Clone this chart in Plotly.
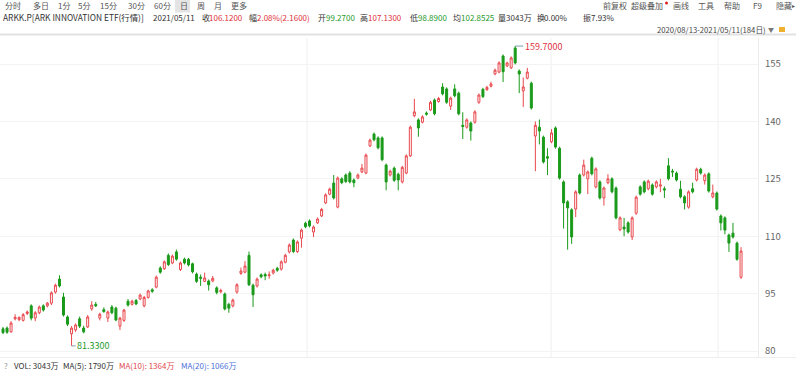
import plotly.graph_objects as go

W, H = 796, 371
FONT = "Noto Sans CJK SC"
RED = "#e8474c"
GREEN = "#1a9a1a"
TXT_RED = "#e0313b"
TXT_GREEN = "#1f9a2a"

# ---- data (ARKK daily, 2020/08/13 - 2021/05/11, 184 sessions) ----
opens = [85.8, 86.0, 85.0, 88.4, 88.2, 88.0, 89.8, 91.8, 88.6, 90.0,
         91.8, 91.8, 92.5, 95.4, 98.8, 94.1, 88.9, 84.5, 85.5, 88.4,
         86.0, 86.3, 91.0, 92.2, 88.6, 90.8, 88.6, 91.5, 91.2, 86.5,
         88.0, 93.0, 92.2, 93.2, 93.6, 91.8, 94.0, 96.0, 96.7, 101.7,
         101.5, 105.0, 103.0, 105.9, 101.3, 104.0, 104.0, 102.8, 100.1, 99.3,
         98.2, 98.3, 98.3, 96.5, 95.5, 94.9, 92.2, 91.8, 95.4, 100.3,
         100.6, 105.0, 97.2, 97.0, 99.9, 100.0, 99.7, 100.4, 101.6, 101.4,
         103.2, 105.9, 109.0, 106.0, 109.5, 113.4, 114.0, 111.1, 113.5, 115.3,
         118.7, 121.0, 123.9, 117.6, 125.0, 126.0, 126.5, 124.7, 125.2, 126.8,
         126.5, 133.6, 136.7, 135.7, 135.7, 128.6, 126.0, 127.8, 126.2, 124.2,
         126.5, 131.0, 141.5, 140.4, 139.8, 142.2, 143.0, 145.6, 145.2, 149.0,
         148.5, 144.0, 148.5, 147.4, 139.0, 138.5, 139.6, 139.8, 145.0, 148.4,
         148.3, 149.2, 152.4, 152.9, 157.1, 154.5, 154.0, 159.2, 153.2, 148.0,
         151.3, 150.0, 136.2, 138.5, 135.9, 130.8, 134.7, 138.3, 133.0, 124.2,
         119.0, 116.9, 117.1, 126.0, 126.0, 125.0, 130.4, 122.9, 124.2, 120.0,
         124.0, 125.0, 122.6, 111.7, 112.4, 113.5, 109.8, 116.0, 122.9, 124.2,
         122.4, 123.4, 122.9, 123.1, 122.4, 128.4, 127.0, 126.5, 122.3, 120.3,
         117.6, 122.4, 124.7, 127.5, 124.5, 126.3, 120.3, 121.3, 115.3, 114.8,
         110.3, 110.8, 108.2, 99.27]

highs = [86.3, 86.4, 87.8, 89.6, 89.0, 89.9, 90.6, 92.2, 90.4, 91.9,
         92.2, 92.8, 95.6, 97.6, 99.8, 95.2, 89.3, 86.5, 87.2, 89.0,
         86.6, 89.4, 93.0, 92.8, 90.0, 91.4, 90.6, 92.0, 91.6, 88.9,
         91.0, 93.6, 93.4, 93.6, 95.0, 94.4, 96.0, 96.4, 99.7, 102.1,
         103.7, 105.5, 105.2, 106.5, 103.4, 104.4, 104.3, 103.1, 100.5, 100.0,
         100.5, 98.7, 99.6, 96.9, 96.3, 95.3, 92.6, 93.7, 97.7, 101.8,
         103.5, 106.0, 97.6, 99.2, 100.3, 100.5, 100.8, 101.5, 102.0, 103.7,
         105.4, 108.1, 109.4, 108.9, 112.0, 113.8, 114.4, 112.8, 114.9, 117.4,
         121.2, 122.7, 126.0, 125.6, 125.4, 126.4, 127.0, 125.1, 126.4, 128.9,
         131.6, 135.5, 137.1, 136.1, 136.1, 129.0, 127.4, 128.2, 126.6, 128.4,
         131.4, 138.9, 145.9, 140.8, 141.6, 142.6, 145.4, 146.0, 146.4, 150.0,
         148.9, 146.5, 149.7, 147.8, 142.4, 140.8, 140.0, 142.9, 147.3, 148.8,
         149.3, 150.4, 153.8, 155.7, 157.5, 155.6, 157.0, 159.7, 153.6, 151.5,
         154.0, 150.4, 140.0, 140.5, 136.3, 133.0, 138.0, 138.7, 133.4, 124.6,
         119.4, 117.3, 122.0, 126.4, 130.0, 127.2, 130.8, 128.0, 124.6, 123.0,
         126.2, 125.4, 123.0, 115.2, 114.8, 113.9, 115.2, 120.6, 123.3, 124.6,
         124.8, 123.8, 124.6, 125.0, 123.0, 130.4, 127.6, 126.9, 124.5, 120.7,
         122.0, 124.0, 127.9, 127.9, 126.4, 126.7, 123.5, 121.7, 115.7, 115.2,
         110.7, 113.5, 108.6, 107.13]

lows = [84.4, 84.5, 84.8, 88.0, 87.8, 87.7, 89.4, 88.0, 87.8, 89.6,
        90.3, 91.4, 92.0, 95.0, 96.6, 89.0, 86.5, 81.33, 85.0, 86.0,
        84.6, 86.0, 90.5, 91.5, 88.0, 90.0, 87.6, 89.6, 87.8, 85.5,
        87.6, 91.6, 91.9, 92.0, 93.3, 91.4, 93.7, 95.2, 96.4, 100.2,
        101.2, 102.2, 102.7, 103.6, 100.9, 102.6, 102.1, 100.3, 97.8, 97.0,
        98.0, 95.8, 98.0, 94.8, 95.1, 90.6, 90.0, 91.4, 95.0, 99.9,
        100.3, 97.0, 91.5, 96.6, 99.0, 98.5, 98.9, 100.0, 100.7, 101.0,
        102.9, 105.5, 105.6, 105.6, 107.0, 112.1, 112.3, 109.8, 113.2, 115.0,
        118.4, 120.7, 119.6, 117.3, 123.6, 123.9, 123.8, 122.8, 124.9, 126.5,
        126.2, 133.3, 134.8, 132.7, 129.6, 122.0, 125.6, 124.2, 122.0, 123.8,
        126.2, 130.7, 141.1, 136.0, 139.5, 141.5, 142.7, 141.6, 144.9, 146.8,
        144.6, 143.0, 146.3, 141.6, 135.4, 138.1, 135.0, 139.4, 144.6, 146.1,
        148.0, 148.9, 152.1, 152.6, 150.3, 154.2, 153.7, 154.9, 147.4, 143.8,
        151.0, 143.1, 127.0, 134.0, 129.0, 126.0, 134.3, 132.9, 124.8, 112.0,
        106.5, 108.0, 115.0, 120.9, 125.6, 121.0, 125.9, 122.5, 119.6, 118.0,
        123.6, 121.2, 114.4, 111.3, 110.0, 110.7, 109.0, 115.6, 120.6, 121.2,
        122.0, 120.6, 122.5, 121.5, 120.0, 124.6, 125.5, 124.3, 119.9, 117.0,
        117.2, 121.2, 124.3, 126.1, 123.5, 121.4, 119.9, 116.7, 111.5, 110.5,
        105.9, 109.4, 103.6, 98.89]

closes = [84.8, 84.9, 87.3, 88.8, 88.8, 89.5, 90.2, 88.6, 90.0, 91.5,
          90.7, 92.5, 95.2, 97.2, 97.0, 89.4, 87.0, 86.0, 86.8, 86.5,
          85.0, 88.9, 92.0, 91.8, 89.6, 90.3, 90.2, 90.0, 88.1, 88.6,
          90.7, 92.0, 93.0, 92.3, 94.6, 94.0, 95.7, 95.6, 99.3, 100.6,
          103.3, 102.6, 104.8, 104.0, 103.0, 103.0, 102.5, 100.7, 98.2, 99.0,
          99.1, 97.3, 99.0, 95.3, 95.8, 91.0, 91.2, 93.3, 97.3, 100.9,
          102.2, 97.3, 94.7, 98.8, 99.4, 99.6, 99.9, 101.1, 101.1, 103.3,
          105.0, 107.7, 106.0, 108.5, 111.6, 112.5, 112.7, 112.4, 114.5, 117.0,
          120.8, 122.3, 120.0, 125.2, 124.0, 124.3, 124.2, 124.0, 126.0, 127.8,
          131.2, 135.1, 135.2, 133.1, 130.0, 124.2, 127.0, 124.6, 124.7, 128.0,
          131.0, 138.5, 142.5, 138.3, 141.2, 141.9, 145.0, 142.0, 146.0, 147.2,
          145.0, 146.1, 146.7, 142.0, 138.7, 140.4, 137.5, 142.5, 146.9, 146.5,
          148.9, 149.8, 153.4, 155.3, 153.0, 155.3, 156.6, 155.3, 152.4, 149.0,
          152.9, 143.5, 139.0, 137.5, 129.4, 130.4, 137.0, 133.3, 125.2, 118.7,
          117.4, 109.8, 121.6, 121.3, 128.6, 126.8, 126.3, 127.6, 120.0, 122.6,
          125.0, 121.6, 114.8, 114.8, 111.9, 111.1, 114.8, 120.2, 121.0, 121.6,
          124.4, 121.0, 124.2, 123.4, 122.1, 125.0, 126.8, 124.7, 120.3, 118.7,
          121.6, 121.6, 127.5, 126.5, 126.0, 121.8, 121.3, 117.1, 113.5, 111.6,
          108.2, 109.8, 103.96, 106.12]

y_ticks = [80, 95, 110, 125, 140, 155]
month_grid = [75.4, 135.9, 177.3]   # session positions of the faint vertical grid lines

idx_max = 127
idx_min = 17

# ---- layout geometry (pixels) ----
PLOT_L, PLOT_R, PLOT_T, PLOT_B = 0, 758, 38, 357
PX_PER_BAR = 4.033
X0 = -3 / PX_PER_BAR
X1 = X0 + (PLOT_R - PLOT_L) / PX_PER_BAR
PX_PER_UNIT = 3.826
Y0 = 80 - (PLOT_B - 351) / PX_PER_UNIT
Y1 = Y0 + (PLOT_B - PLOT_T) / PX_PER_UNIT

xs = list(range(len(opens)))

fig = go.Figure()
fig.add_trace(go.Candlestick(
    x=xs, open=opens, high=highs, low=lows, close=closes,
    increasing=dict(line=dict(color=RED, width=1), fillcolor="white"),
    decreasing=dict(line=dict(color=GREEN, width=1), fillcolor=GREEN),
    whiskerwidth=0, hoverinfo="skip", showlegend=False,
))

fig.update_layout(
    width=W, height=H,
    margin=dict(l=0, r=0, t=0, b=0),
    paper_bgcolor="white", plot_bgcolor="white",
    showlegend=False,
    xaxis=dict(domain=[PLOT_L / W, PLOT_R / W], range=[X0, X1],
               showgrid=False, zeroline=False, showticklabels=False,
               rangeslider=dict(visible=False), fixedrange=True),
    yaxis=dict(domain=[1 - PLOT_B / H, 1 - PLOT_T / H], range=[Y0, Y1],
               side="right", tickvals=y_ticks, ticks="",
               ticklabelstandoff=4,
               tickfont=dict(family=FONT, size=9.5, color="#666"),
               showgrid=True, gridcolor="#f3f3f3", gridwidth=1,
               zeroline=False, showline=True, linecolor="#ececec",
               automargin=False, fixedrange=True),
)


def px(x):
    return x / W


def py(y):
    return 1 - y / H


def txt(x, y, s, color="#333", size=8.2, anchor="left"):
    fig.add_annotation(x=px(x), y=py(y), xref="paper", yref="paper", text=s,
                       showarrow=False, xanchor=anchor, yanchor="middle",
                       borderpad=0,
                       font=dict(family=FONT, size=size, color=color))


# faint vertical grid lines
for g in month_grid:
    fig.add_shape(type="line", xref="x", yref="paper", x0=g, x1=g,
                  y0=1 - PLOT_B / H, y1=1 - PLOT_T / H,
                  line=dict(color="#efefef", width=1), layer="below")

# header separator & bottom separator
fig.add_shape(type="line", xref="paper", yref="paper", x0=0, x1=1,
              y0=py(34.5), y1=py(34.5), line=dict(color="#e2e2e2", width=2))
fig.add_shape(type="line", xref="paper", yref="paper", x0=0, x1=1,
              y0=py(357.5), y1=py(357.5), line=dict(color="#eeeeee", width=1))

# highlighted "日" tab
fig.add_shape(type="rect", xref="paper", yref="paper", x0=px(175), x1=px(190),
              y0=py(12.5), y1=py(0), fillcolor="#e4e4e4", line=dict(width=0),
              layer="below")

# ---- top menu row ----
menu = [(4, "分时"), (32, "多日"), (57, "1分"), (77, "5分"), (99, "15分"),
        (127, "30分"), (153, "60分"), (179, "日"), (196, "周"), (213, "月"),
        (230, "更多")]
for x, s in menu:
    txt(x, 6, s, "#555", 8)

right_menu = [(602, "前复权"), (630, "超级叠加"), (672, "画线"), (697, "工具"),
              (723, "帮助"), (752, "F9"), (775, "隐藏")]
for x, s in right_menu:
    txt(x, 6, s, "#555", 8)
txt(791, 6, "▸", "#555", 6)
fig.add_shape(type="circle", xref="paper", yref="paper", x0=px(665), x1=px(668),
              y0=py(4.5), y1=py(1.5), fillcolor="#e02020", line=dict(width=0))

# ---- quote row ----
quote = [(2, "ARKK.P[ARK INNOVATION ETF(行情)]", "#333", 8.4),
         (152, "2021/05/11", "#333", 8),
         (201, "收", "#333", 8), (208, "106.1200", TXT_RED, 8),
         (248, "幅", "#333", 8), (256, "2.08%(2.1600)", TXT_RED, 8),
         (317, "开", "#333", 8), (325, "99.2700", TXT_GREEN, 8),
         (359, "高", "#333", 8), (367, "107.1300", TXT_RED, 8),
         (409, "低", "#333", 8), (417, "98.8900", TXT_GREEN, 8),
         (452, "均", "#333", 8), (460, "102.8525", TXT_GREEN, 8),
         (497, "量", "#333", 8), (505, "3043万", "#333", 8),
         (536, "换", "#333", 8), (543, "0.00%", "#333", 8),
         (582, "振", "#333", 8), (590, "7.93%", "#333", 8)]
for x, s, c, sz in quote:
    txt(x, 17, s, c, sz)

# ---- range row ----
txt(656, 29, "2020/08/13-2021/05/11(184日)", "#444", 7.7)
txt(767, 29, "▼", "#777", 6)
fig.add_shape(type="rect", xref="paper", yref="paper", x0=px(779), x1=px(785),
              y0=py(32), y1=py(27), fillcolor="#f0b030", line=dict(width=0))

# ---- extreme labels ----
fig.add_shape(type="line", xref="x", yref="y", x0=idx_max, x1=idx_max + 2,
              y0=highs[idx_max], y1=highs[idx_max], line=dict(color="#7f9fb0", width=1))
fig.add_annotation(x=idx_max + 2.1, y=highs[idx_max], xref="x", yref="y",
                   text=f"{highs[idx_max]:.4f}", showarrow=False, xanchor="left",
                   yanchor="middle", borderpad=0,
                   font=dict(family=FONT, size=9, color=TXT_RED))
fig.add_shape(type="line", xref="x", yref="y", x0=idx_min, x1=idx_min + 1,
              y0=lows[idx_min], y1=lows[idx_min], line=dict(color="#7f9fb0", width=1))
fig.add_annotation(x=idx_min + 1.1, y=lows[idx_min], xref="x", yref="y",
                   text=f"{lows[idx_min]:.4f}", showarrow=False, xanchor="left",
                   yanchor="middle", borderpad=0,
                   font=dict(family=FONT, size=9, color=TXT_GREEN))

# ---- volume info row ----
txt(3, 365, "?", "#999", 8)
txt(13, 365, "VOL: 3043万", "#333", 8)
txt(62, 365, "MA(5): 1790万", "#333", 8)
txt(118, 365, "MA(10): 1364万", "#e0474c", 8)
txt(180, 365, "MA(20): 1066万", "#4a6fd8", 8)

fig.write_html("out.html")
